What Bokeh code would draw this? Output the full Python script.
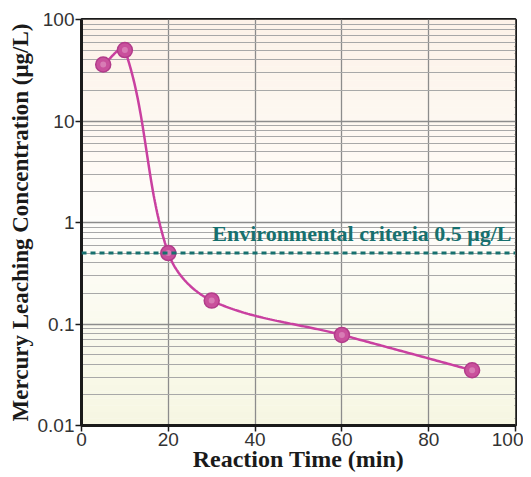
import numpy as np
from bokeh.plotting import figure
from bokeh.models import FixedTicker, CustomJSTickFormatter, Range1d, Span
from bokeh.core.properties import value
from bokeh.embed import file_html
from bokeh.resources import INLINE

# ---- data ----
time_min = [5, 10, 20, 30, 60, 90]
mercury_ugL = [36, 50, 0.5, 0.17, 0.078, 0.035]
criteria_value = 0.5
criteria_label = "Environmental criteria 0.5 \u03bcg/L"
x_ticks = [0, 20, 40, 60, 80, 100]
y_major = [0.01, 0.1, 1, 10, 100]
x_title = "Reaction Time (min)"
y_title = "Mercury Leaching Concentration (\u03bcg/L)"

y_minor = [m * d for d in y_major[:-1] for m in range(2, 10)]

FW, FH = 434, 406
p = figure(output_backend="svg", toolbar_location=None,
           y_axis_type="log",
           x_range=Range1d(0, 100), y_range=Range1d(0.01, 100),
           frame_width=FW, frame_height=FH,
           min_border_left=81, min_border_right=8,
           min_border_top=19, min_border_bottom=51,
           background_fill_color="#fdfbf5", border_fill_color="white")

# background gradient (peach top -> white -> pale yellow bottom)
top_c = np.array([253, 242, 232])
mid_c = np.array([254, 253, 250])
bot_c = np.array([246, 246, 226])
n = 60
lo, hi = np.log10(0.01), np.log10(100)
for i in range(n):
    f0 = i / n
    f1 = (i + 1) / n
    fm = (f0 + f1) / 2  # 0 bottom, 1 top
    if fm < 0.5:
        c = bot_c + (mid_c - bot_c) * (fm / 0.5)
    else:
        c = mid_c + (top_c - mid_c) * ((fm - 0.5) / 0.5)
    col = "#%02x%02x%02x" % tuple(int(round(v)) for v in c)
    p.quad(left=0, right=100, bottom=10 ** (lo + f0 * (hi - lo)),
           top=10 ** (lo + f1 * (hi - lo)), fill_color=col, line_color=None,
           level="image")

# axes / ticks
p.xaxis.ticker = FixedTicker(ticks=x_ticks)
p.yaxis.ticker = FixedTicker(ticks=y_major, minor_ticks=y_minor)
p.yaxis.formatter = CustomJSTickFormatter(code="return parseFloat(tick.toPrecision(3)).toString();")

for ax in (p.xaxis, p.yaxis):
    ax.axis_line_width = 3
    ax.axis_line_color = "#1a1a1a"
    ax.major_tick_line_color = "#1a1a1a"
    ax.major_tick_line_width = 1.5
    ax.major_tick_out = 6
    ax.major_tick_in = 0
    ax.minor_tick_line_color = None
    ax.major_label_text_font = "Liberation Sans"
    ax.major_label_text_font_size = "19px"
    ax.major_label_text_color = "#333333"
    ax.major_label_standoff = 1
    ax.axis_label_text_font = "Liberation Serif"
    ax.axis_label_text_font_style = "bold"
    ax.axis_label_text_color = "#1a1a1a"

p.xaxis.axis_label = x_title
p.xaxis.axis_label_text_font_size = "24px"
p.xaxis.axis_label_standoff = -3
p.yaxis.axis_label = y_title
p.yaxis.axis_label_text_font_size = "23px"
p.yaxis.axis_label_standoff = 2

p.xgrid.grid_line_color = "#8c8c8c"
p.xgrid.grid_line_width = 1.3
p.ygrid.grid_line_color = "#8c8c8c"
p.ygrid.grid_line_width = 1.3
p.ygrid.minor_grid_line_color = "#a8a8a8"
p.ygrid.minor_grid_line_width = 1.2

p.outline_line_color = "#1a1a1a"
p.outline_line_width = 3
p.outline_line_alpha = 1

# criteria line
p.add_layout(Span(location=criteria_value, dimension="width",
                  line_color="#17706e", line_width=3, line_dash="5 4"))
p.text(x=[p.x_range.end], y=[criteria_value], text=[criteria_label],
       x_offset=-4, y_offset=-7,
       text_align="right", text_baseline="bottom",
       text_font=value("Liberation Serif"), text_font_style="bold",
       text_font_size="22px", text_color="#17706e")

# smooth curve: Hermite spline in screen-scaled (x, log y), Catmull-Rom
# tangent directions with magnitudes scaled to each segment's chord length
sx = np.array(time_min, dtype=float) / 100.0 * FW
sy = (np.log10(np.array(mercury_ugL, dtype=float)) - lo) / (hi - lo) * FH
P = np.stack([sx, sy], axis=1)
npt = len(P)
dirs = []
for i in range(npt):
    if i == 0:
        d = P[1] - P[0]
    elif i == npt - 1:
        d = P[-1] - P[-2]
    else:
        d = P[i + 1] - P[i - 1]
    dirs.append(d / np.linalg.norm(d))
cx, cy = [], []
t = np.linspace(0, 1, 60)
h00 = 2 * t**3 - 3 * t**2 + 1
h10 = t**3 - 2 * t**2 + t
h01 = -2 * t**3 + 3 * t**2
h11 = t**3 - t**2
for i in range(npt - 1):
    L = np.linalg.norm(P[i + 1] - P[i])
    m0 = dirs[i] * L
    m1 = dirs[i + 1] * L
    seg = (h00[:, None] * P[i] + h10[:, None] * m0 +
           h01[:, None] * P[i + 1] + h11[:, None] * m1)
    cx.extend(seg[:, 0] / FW * 100.0)
    cy.extend(10 ** (lo + seg[:, 1] / FH * (hi - lo)))
p.line(cx, cy, line_color="#c940a0", line_width=2.5)

p.scatter(time_min, mercury_ugL, size=15, fill_color="#c9509c",
          line_color="#b23c8a", line_width=1.5)
p.scatter(time_min, mercury_ugL, size=6, fill_color="#e39ac6",
          line_color=None, fill_alpha=0.6)

open("out.html", "w").write(file_html(p, INLINE))
